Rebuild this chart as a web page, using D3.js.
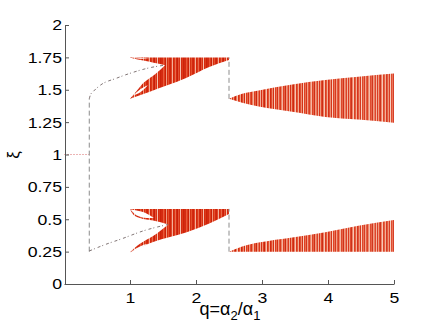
<!DOCTYPE html>
<html>
<head>
<meta charset="utf-8">
<script src="https://cdn.jsdelivr.net/npm/d3@7"></script>
<style>
  body { margin: 0; background: #fff; }
  svg { display: block; font-family: "Liberation Sans", Arial, sans-serif; }
  .tick text { fill: #000; }
</style>
</head>
<body>
<svg id="chart" width="437" height="329"></svg>
<script>
// axis ticks
const xTicks = [1, 2, 3, 4, 5];
const yTicks = [0, 0.25, 0.5, 0.75, 1, 1.25, 1.5, 1.75, 2];
const yTickLabels = ["0", "0.25", "0.5", "0.75", "1", "1.25", "1.5", "1.75", "2"];

// xi = 1 branch for small q
const flatQ = [0, 0.383];
const flatXi = [1, 1];

// vertical jumps (dashed)
const jumpQ = [0.383, 2.5, 2.5];
const jumpFrom = [0.25, 1.43, 0.25];
const jumpTo = [1.43, 1.75, 0.58];

// single-valued branches after first jump
const upperCurveQ = [0.383, 0.40, 0.45, 0.55, 0.8, 1.05, 1.3, 1.53];
const upperCurveXi = [1.43, 1.46, 1.49, 1.535, 1.59, 1.635, 1.67, 1.69];
const lowerCurveQ = [0.383, 0.6, 0.88, 1.2, 1.58];
const lowerCurveXi = [0.255, 0.30, 0.35, 0.41, 0.46];

// swallowtail wedges, 1 < q < 2.5
const upWedgeQ = [1.0, 1.3, 1.85, 2.2, 2.5];
const upWedgeTop = [1.75, 1.75, 1.75, 1.75, 1.75];
const upWedgeBot = [1.43, 1.485, 1.59, 1.675, 1.73];
const loWedgeQ = [1.0, 1.35, 1.86, 2.21, 2.5];
const loWedgeTop = [0.58, 0.58, 0.58, 0.58, 0.58];
const loWedgeBot = [0.245, 0.325, 0.40, 0.47, 0.54];

// empty notch between the horns
const upNotchQ = [1.0, 1.1, 1.18, 1.3, 1.38, 1.53];
const upNotchTop = [1.75, 1.735, 1.728, 1.717, 1.706, 1.69];
const upNotchBot = [1.43, 1.49, 1.54, 1.59, 1.62, 1.69];
const loNotchQ = [1.0, 1.06, 1.15, 1.35, 1.58];
const loNotchTop = [0.58, 0.53, 0.51, 0.49, 0.46];
const loNotchBot = [0.245, 0.275, 0.31, 0.37, 0.46];

// small empty lenses inside the horns
const lensQ = [
  [1.02, 1.15, 1.3],
  [1.05, 1.16, 1.27],
  [1.0, 1.12, 1.25, 1.36],
  [1.03, 1.15, 1.27]
];
const lensTop = [
  [1.749, 1.747, 1.738],
  [1.455, 1.505, 1.535],
  [0.578, 0.565, 0.545, 0.51],
  [0.255, 0.29, 0.31]
];
const lensBot = [
  [1.749, 1.739, 1.738],
  [1.455, 1.482, 1.535],
  [0.578, 0.525, 0.51, 0.51],
  [0.255, 0.275, 0.31]
];

// bands for q > 2.5
const rightQ = [2.5, 2.7, 2.95, 3.46, 3.96, 4.46, 5.0];
const rightUpTop = [1.43, 1.47, 1.495, 1.54, 1.575, 1.60, 1.625];
const rightUpBot = [1.43, 1.40, 1.37, 1.33, 1.29, 1.27, 1.245];
const rightLoTop = [0.25, 0.29, 0.32, 0.36, 0.40, 0.45, 0.495];
const rightLoBot = [0.25, 0.25, 0.25, 0.25, 0.25, 0.25, 0.25];

const svg = d3.select("#chart");

const x = d3.scaleLinear().domain([0, 5]).range([64, 394]);
const y = d3.scaleLinear().domain([0, 2]).range([284, 25]);

// stripe textures
const denseColors = ["#d42a10", "#d42a10", "#e85838", "#de3c1c", "#c92008", "#f09a80", "#d63012",
  "#e4502e", "#d42a10", "#cf240b", "#e0462a", "#f4b09a", "#d1280d", "#dc3818", "#e8684a",
  "#d42a10", "#c81e08", "#e25034", "#d73214", "#f6c0ae", "#d42a10", "#db3a1a", "#cd2209"];
const mixedColors = ["#d42a10", "#ee9478", "#de3c1c", "#c92008", "#eb7a5c", "#f6c2b0", "#d63012",
  "#e4502e", "#f2a88e", "#cf240b", "#e0462a", "#ec8a6c", "#d1280d", "#f7cbbb", "#dc3818",
  "#e8684a", "#d42a10", "#f09c82", "#e25034", "#d73214", "#ea8062", "#f4b4a0", "#db3a1a",
  "#e35a3c", "#cd2209", "#ee9476", "#e87058", "#d93515", "#f2ae98"];

const defs = svg.append("defs");
function stripePattern(id, colors) {
  const p = defs.append("pattern")
    .attr("id", id)
    .attr("patternUnits", "userSpaceOnUse")
    .attr("width", colors.length)
    .attr("height", 10);
  p.selectAll("rect")
    .data(colors)
    .join("rect")
    .attr("x", (d, i) => i)
    .attr("y", 0)
    .attr("width", 1)
    .attr("height", 10)
    .attr("fill", d => d);
}
stripePattern("dense", denseColors);
stripePattern("mixed", mixedColors);

const fade = defs.append("linearGradient")
  .attr("id", "fade")
  .attr("gradientUnits", "userSpaceOnUse")
  .attr("x1", x(2.5)).attr("x2", x(5)).attr("y1", 0).attr("y2", 0);
fade.append("stop").attr("offset", 0).attr("stop-color", "#fff").attr("stop-opacity", 0);
fade.append("stop").attr("offset", 1).attr("stop-color", "#fff").attr("stop-opacity", 0.1);

function band(qs, top, bot) {
  return d3.area()
    .x((d, i) => x(qs[i]))
    .y0((d, i) => y(bot[i]))
    .y1((d, i) => y(top[i]))
    .curve(d3.curveMonotoneX)(qs);
}

const plot = svg.append("g");

// wedges
plot.append("path").attr("d", band(upWedgeQ, upWedgeTop, upWedgeBot)).attr("fill", "url(#dense)");
plot.append("path").attr("d", band(loWedgeQ, loWedgeTop, loWedgeBot)).attr("fill", "url(#dense)");
plot.append("path").attr("d", band(upNotchQ, upNotchTop, upNotchBot)).attr("fill", "#fff");
plot.append("path").attr("d", band(loNotchQ, loNotchTop, loNotchBot)).attr("fill", "#fff");
lensQ.forEach((qs, k) => {
  plot.append("path").attr("d", band(qs, lensTop[k], lensBot[k])).attr("fill", "#fff");
});

// right bands
[[rightUpTop, rightUpBot], [rightLoTop, rightLoBot]].forEach(([t, b]) => {
  plot.append("path").attr("d", band(rightQ, t, b)).attr("fill", "url(#mixed)");
  plot.append("path").attr("d", band(rightQ, t, b)).attr("fill", "url(#fade)");
});

// xi = 1 branch
plot.append("path")
  .attr("d", d3.line().x((d, i) => x(flatQ[i])).y((d, i) => y(flatXi[i]))(flatQ))
  .attr("fill", "none")
  .attr("stroke", "#ecb4b4")
  .attr("stroke-width", 1.2)
  .attr("stroke-dasharray", "2,1");

// dashed jumps
plot.selectAll(".jump")
  .data(jumpQ)
  .join("line")
  .attr("class", "jump")
  .attr("x1", d => x(d))
  .attr("x2", d => x(d))
  .attr("y1", (d, i) => y(jumpFrom[i]))
  .attr("y2", (d, i) => y(jumpTo[i]))
  .attr("stroke", "#8c8c8c")
  .attr("stroke-width", 1)
  .attr("stroke-dasharray", "5,3");

// dotted branches
[[upperCurveQ, upperCurveXi], [lowerCurveQ, lowerCurveXi]].forEach(([qs, xs]) => {
  plot.append("path")
    .attr("d", d3.line().x((d, i) => x(qs[i])).y((d, i) => y(xs[i])).curve(d3.curveMonotoneX)(qs))
    .attr("fill", "none")
    .attr("stroke", "#5a4a4a")
    .attr("stroke-opacity", 0.85)
    .attr("stroke-width", 0.9)
    .attr("stroke-dasharray", "3,2,1,3");
});

// axes
const xAxis = svg.append("g")
  .attr("transform", `translate(0,${y(0)})`)
  .call(d3.axisBottom(x).tickValues(xTicks).tickFormat(d3.format("d"))
    .tickSize(-4).tickSizeOuter(0).tickPadding(8));
const yAxis = svg.append("g")
  .attr("transform", `translate(${x(0) + 1},0)`)
  .call(d3.axisLeft(y).tickValues(yTicks).tickFormat((d, i) => yTickLabels[i])
    .tickSize(-4).tickSizeOuter(0).tickPadding(3));

[xAxis, yAxis].forEach(g => {
  g.select(".domain").attr("stroke", "#555");
  g.selectAll(".tick line").attr("stroke", "#555");
  g.selectAll("text")
    .attr("font-size", 15.5)
    .style("transform-box", "fill-box")
    .style("transform", "scaleX(1.14)");
});
xAxis.selectAll("text").style("transform-origin", "center");
yAxis.selectAll("text").style("transform-origin", "right center");

// axis labels
svg.append("text")
  .attr("transform", "translate(19,155) rotate(-90)")
  .attr("text-anchor", "middle")
  .attr("font-size", 17)
  .text("ξ");

const xl = svg.append("text")
  .attr("x", 230)
  .attr("y", 315)
  .attr("text-anchor", "middle")
  .attr("font-size", 18);
xl.append("tspan").text("q=α");
xl.append("tspan").attr("font-size", 13).attr("dy", 5).text("2");
xl.append("tspan").attr("dy", -5).text("/α");
xl.append("tspan").attr("font-size", 13).attr("dy", 5).text("1");
</script>
</body>
</html>
